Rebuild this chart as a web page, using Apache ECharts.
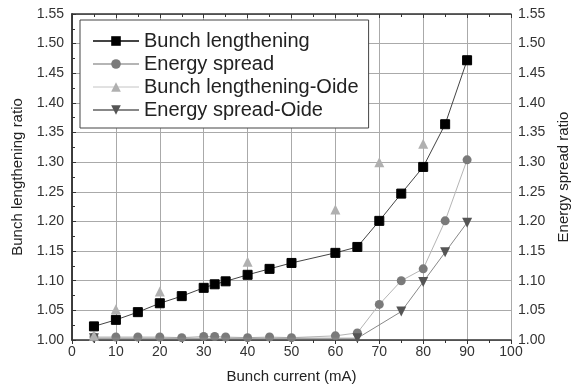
<!DOCTYPE html>
<html><head><meta charset="utf-8">
<script src="https://cdn.jsdelivr.net/npm/echarts@6/dist/echarts.min.js"></script>
<style>html,body{margin:0;padding:0;background:#fff}#c{width:572px;height:389px}</style>
</head><body><div id="c"></div>
<script>
const blX = [5,10,15,20,25,30,32.5,35,40,45,50,60,65,70,75,80,85,90];
const blY = [1.023,1.034,1.047,1.062,1.074,1.088,1.094,1.099,1.110,1.120,1.130,1.147,1.157,1.201,1.247,1.292,1.364,1.472];
const esX = [5,10,15,20,25,30,32.5,35,40,45,50,60,65,70,75,80,85,90];
const esY = [1.005,1.005,1.005,1.005,1.004,1.006,1.006,1.005,1.004,1.005,1.004,1.007,1.012,1.060,1.100,1.120,1.201,1.304];
const bloX = [5,10,20,40,60,70,80,90];
const bloY = [1.007,1.052,1.082,1.132,1.220,1.300,1.331,1.472];
const esoX = [5,65,75,80,85,90];
const esoY = [1.003,1.003,1.048,1.098,1.148,1.198];
const names = ['Bunch lengthening','Energy spread','Bunch lengthening-Oide','Energy spread-Oide'];
const yTicks = {min:1.00,max:1.55,interval:0.05};
const xTicks = {min:0,max:100,interval:10};

const pairs = (xs, ys) => xs.map((x,i)=>[x, ys[i]]);
const font = 'Liberation Sans, Arial, sans-serif';
const axisCol = '#333';
const chart = echarts.init(document.getElementById('c'));
const yAxisBase = {
  type:'value', min:yTicks.min, max:yTicks.max, interval:yTicks.interval,
  axisLine:{show:true,lineStyle:{color:axisCol,width:1.5}},
  axisTick:{show:true,inside:true,length:4,lineStyle:{color:axisCol}},
  minorTick:{show:true,splitNumber:2,length:3,lineStyle:{color:axisCol}},
  axisLabel:{color:'#333',fontSize:14,fontFamily:font,formatter:v=>v.toFixed(2)},
  nameLocation:'middle', nameTextStyle:{color:'#222',fontSize:15,fontFamily:font}
};
chart.setOption({
  animation:false,
  backgroundColor:'#fff',
  grid:{left:72,right:61,top:14,bottom:49,show:false,outerBoundsMode:'none',containLabel:false},
  legend:{
    orient:'vertical', left:80, top:20,
    padding:[11,10,8,12], itemGap:3, itemWidth:46, itemHeight:12,
    backgroundColor:'#fff', borderColor:'#444', borderWidth:1,
    textStyle:{fontSize:20,color:'#222',fontFamily:font},
    data:[
      {name:names[0]},
      {name:names[1]},
      {name:names[2], lineStyle:{color:'#c4c4c4',width:1,opacity:1}},
      {name:names[3]}
    ]
  },
  xAxis:[{
    type:'value', min:xTicks.min, max:xTicks.max, interval:xTicks.interval,
    name:'Bunch current (mA)', nameLocation:'middle', nameGap:29,
    nameTextStyle:{color:'#222',fontSize:15,fontFamily:font},
    axisLine:{show:true,lineStyle:{color:axisCol,width:1.5}},
    axisTick:{show:true,inside:false,length:4,lineStyle:{color:axisCol}},
    minorTick:{show:true,splitNumber:2,length:3,lineStyle:{color:axisCol}},
    axisLabel:{color:'#333',fontSize:14,fontFamily:font,margin:5},
    splitLine:{show:true,lineStyle:{color:'#aaa',width:1}}
  },{
    type:'value', position:'top', min:xTicks.min, max:xTicks.max, interval:xTicks.interval,
    axisLine:{show:true,lineStyle:{color:axisCol,width:1.5}},
    axisTick:{show:true,inside:true,length:4,lineStyle:{color:axisCol}},
    minorTick:{show:true,splitNumber:2,length:3,lineStyle:{color:axisCol}},
    axisLabel:{show:false}, splitLine:{show:false}
  }],
  yAxis:[Object.assign({}, yAxisBase, {
    position:'left', name:'Bunch lengthening ratio', nameGap:45,
    splitLine:{show:true,lineStyle:{color:'#aaa',width:1}}
  }), Object.assign({}, yAxisBase, {
    position:'right', name:'Energy spread ratio', nameGap:44, splitLine:{show:false},
    axisTick:{show:true,inside:false,length:4,lineStyle:{color:axisCol}},
    axisLabel:Object.assign({}, yAxisBase.axisLabel, {margin:7})
  })],
  series:[
    {name:names[1], type:'line', data:pairs(esX,esY), symbol:'circle', symbolSize:9,
     itemStyle:{color:'#7a7a7a'}, lineStyle:{color:'#b5b5b5',width:1}, z:3},
    {name:names[3], type:'line', data:pairs(esoX,esoY), symbol:'triangle', symbolRotate:180, symbolSize:10,
     itemStyle:{color:'#555'}, lineStyle:{color:'#888',width:1}, z:4},
    {name:names[2], type:'line', data:pairs(bloX,bloY), symbol:'triangle', symbolSize:10,
     itemStyle:{color:'#b0b0b0'}, lineStyle:{width:0,opacity:0}, z:5},
    {name:names[0], type:'line', data:pairs(blX,blY), symbol:'rect', symbolSize:9,
     itemStyle:{color:'#000',borderColor:'#000'}, lineStyle:{color:'#444',width:1}, z:6}
  ]
});
</script></body></html>
